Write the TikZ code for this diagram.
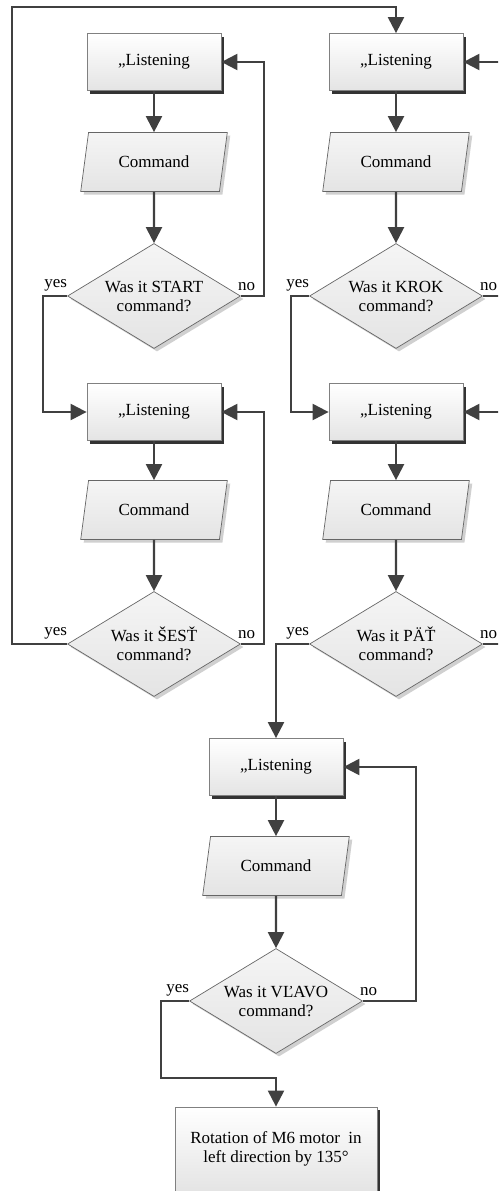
\documentclass[tikz,border=0pt]{standalone}
\usepackage{fontspec}
\setmainfont{Liberation Serif}
\usetikzlibrary{arrows.meta,shapes.geometric,shadows}
\definecolor{fcline}{HTML}{404040}
\definecolor{fcborder}{HTML}{808080}
\definecolor{fcfill}{HTML}{E4E4E4}
\definecolor{fcshade}{HTML}{D0D0D0}
\tikzset{
  listen/.style={rectangle,draw=fcborder,line width=.8pt,top color=white,bottom color=fcfill,minimum width=134pt,minimum height=57pt,align=center,drop shadow={shadow xshift=3pt,shadow yshift=-3pt,fill=black!80,opacity=1}},
  inputbox/.style={trapezium,trapezium left angle=76,trapezium right angle=104,trapezium stretches=true,draw=fcline!80,line width=.7pt,top color=white!96!black,bottom color=fcfill,minimum width=147pt,minimum height=59pt,drop shadow={shadow xshift=3pt,shadow yshift=-3pt,fill=fcshade,opacity=1}},
  decision/.style={diamond,aspect=1.65,inner sep=1pt,draw=fcline!80,line width=.7pt,top color=white!96!black,bottom color=fcfill,minimum width=173pt,minimum height=105pt,align=center,drop shadow={shadow xshift=3pt,shadow yshift=-3pt,fill=fcshade,opacity=1}},
  flow/.style={draw=fcline,line width=2.2pt,-{Triangle[length=16pt,width=16pt]}},
  lbl/.style={inner sep=2pt,text=black,yshift=3pt},
}
\begin{document}
\begin{tikzpicture}[x=1pt,y=-1pt,font=\fontsize{17}{19}\selectfont]
  \useasboundingbox (0,0) rectangle (498,1191);
  \clip (0,0) rectangle (498,1191);

  % ---- left column ----
  \node[listen] (lisA) at (154,62) {„Listening};
  \node[inputbox] (cmdA) at (154,162) {Command};
  \node[decision] (qStart) at (154,296) {Was it START\\command?};
  \node[listen] (lisB) at (154,412) {„Listening};
  \node[inputbox] (cmdB) at (154,510) {Command};
  \node[decision] (qSest) at (154,644) {Was it ŠESŤ\\command?};

  % ---- right column ----
  \node[listen] (lisC) at (396,62) {„Listening};
  \node[inputbox] (cmdC) at (396,162) {Command};
  \node[decision] (qKrok) at (396,296) {Was it KROK\\command?};
  \node[listen] (lisD) at (396,412) {„Listening};
  \node[inputbox] (cmdD) at (396,510) {Command};
  \node[decision] (qPat) at (396,644) {Was it PÄŤ\\command?};

  % ---- bottom ----
  \node[listen] (lisE) at (276,767) {„Listening};
  \node[inputbox] (cmdE) at (276,866) {Command};
  \node[decision] (qVlavo) at (276,1001) {Was it VĽAVO\\command?};
  \node[listen,minimum width=202pt,minimum height=84pt] (motor) at (276,1149) {Rotation of M6 motor\ \ in\\left direction by 135°};

  \foreach \a/\b in {lisA/cmdA,cmdA/qStart,lisB/cmdB,cmdB/qSest,lisC/cmdC,cmdC/qKrok,lisD/cmdD,cmdD/qPat,lisE/cmdE,cmdE/qVlavo}
    \draw[flow] (\a) -- (\b);

  % ---- branches ----
  \draw[flow] (qStart.east) -- ++(23,0) |- (lisA.east);
  \draw[flow] (qStart.west) -- ++(-24,0) |- (lisB.west);
  \draw[flow] (qSest.east) -- ++(23,0) |- (lisB.east);
  \draw[flow] (qSest.west) -| (12,7) -| (lisC.north);
  \draw[flow] (qKrok.east) -- ++(23,0) |- (lisC.east);
  \draw[flow] (qKrok.west) -- ++(-18,0) |- (lisD.west);
  \draw[flow] (qPat.east) -- ++(23,0) |- (lisD.east);
  \draw[flow] (qPat.west) -| (lisE.north);
  \draw[flow] (qVlavo.east) -- ++(53,0) |- (lisE.east);
  \draw[flow] (qVlavo.west) -- ++(-28,0) |- ([yshift=29pt]motor.north) -- (motor.north);

  \foreach \q in {qStart,qSest,qKrok,qPat,qVlavo}{
    \node[lbl,anchor=south east,xshift=2pt] at (\q.west) {yes};
    \node[lbl,anchor=south west,xshift=-5pt] at (\q.east) {no};
  }
\end{tikzpicture}
\end{document}
